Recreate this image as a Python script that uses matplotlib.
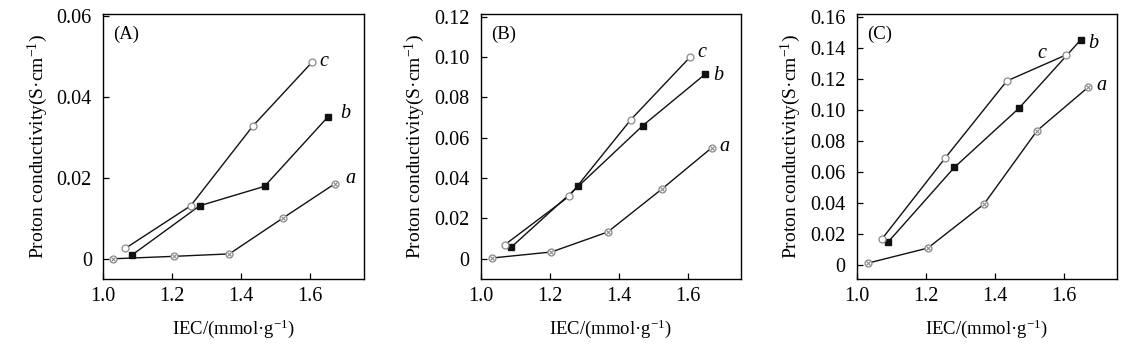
import matplotlib
matplotlib.use('Agg')
import matplotlib.pyplot as plt

plt.rcParams['font.family'] = ['Liberation Serif', 'DejaVu Serif']
plt.rcParams['mathtext.fontset'] = 'custom'
plt.rcParams['mathtext.rm'] = 'Liberation Serif'
plt.rcParams['mathtext.it'] = 'Liberation Serif:italic'

# Panel A
a_x_A = [1.03, 1.205, 1.366, 1.522, 1.671]
a_y_A = [0.0, 0.0006, 0.0012, 0.0101, 0.0185]
b_x_A = [1.085, 1.28, 1.468, 1.651]
b_y_A = [0.001, 0.0131, 0.0179, 0.035]
c_x_A = [1.065, 1.254, 1.434, 1.607]
c_y_A = [0.0026, 0.0131, 0.0328, 0.0487]

# Panel B
a_x_B = [1.032, 1.205, 1.368, 1.525, 1.669]
a_y_B = [0.0003, 0.0033, 0.0132, 0.0345, 0.0549]
b_x_B = [1.088, 1.283, 1.470, 1.650]
b_y_B = [0.0056, 0.0359, 0.066, 0.0914]
c_x_B = [1.070, 1.256, 1.435, 1.606]
c_y_B = [0.0069, 0.0309, 0.0689, 0.0998]

# Panel C
a_x_C = [1.034, 1.206, 1.369, 1.523, 1.671]
a_y_C = [0.0015, 0.0111, 0.0394, 0.0867, 0.1146]
b_x_C = [1.091, 1.283, 1.470, 1.649]
b_y_C = [0.015, 0.063, 0.101, 0.145]
c_x_C = [1.073, 1.257, 1.435, 1.606]
c_y_C = [0.0169, 0.0692, 0.1186, 0.1353]

panel_names = ['(A)', '(B)', '(C)']
yticks_A = [0, 0.02, 0.04, 0.06]
yticks_B = [0, 0.02, 0.04, 0.06, 0.08, 0.10, 0.12]
yticks_C = [0, 0.02, 0.04, 0.06, 0.08, 0.10, 0.12, 0.14, 0.16]
xticks = [1.0, 1.2, 1.4, 1.6]

panels = [
    (a_x_A, a_y_A, b_x_A, b_y_A, c_x_A, c_y_A, yticks_A, ['0', '0.02', '0.04', '0.06'],
     (-0.005, 0.0605), [(1.717, 0.0198, 'a'), (1.702, 0.036, 'b'), (1.639, 0.0487, 'c')]),
    (a_x_B, a_y_B, b_x_B, b_y_B, c_x_B, c_y_B, yticks_B, ['0', '0.02', '0.04', '0.06', '0.08', '0.10', '0.12'],
     (-0.0101, 0.1213), [(1.705, 0.0557, 'a'), (1.690, 0.0907, 'b'), (1.642, 0.102, 'c')]),
    (a_x_C, a_y_C, b_x_C, b_y_C, c_x_C, c_y_C, yticks_C, ['0', '0.02', '0.04', '0.06', '0.08', '0.10', '0.12', '0.14', '0.16'],
     (-0.0088, 0.1617), [(1.710, 0.1154, 'a'), (1.686, 0.1428, 'b'), (1.537, 0.1364, 'c')]),
]

lefts = [0.0904, 0.4217, 0.7515]
width = 0.2285
bottom = 0.2163
height = 0.7444

fig = plt.figure(figsize=(11.4, 3.56), dpi=100)

line_color = '#111111'
gray = '#8a8a8a'

for i, (ax_, ay_, bx_, by_, cx_, cy_, yt, ytl, ylim, labels) in enumerate(panels):
    ax = fig.add_axes([lefts[i], bottom, width, height])
    ax.plot(ax_, ay_, '-', color=line_color, lw=1.0, marker='o', ms=5,
            mfc='white', mec=gray, mew=0.9)
    ax.plot(ax_, ay_, 'none', marker='x', ms=3.2, mec=gray, mew=0.8)
    ax.plot(bx_, by_, '-', color=line_color, lw=1.0, marker='s', ms=5,
            mfc='#111111', mec='#111111')
    ax.plot(cx_, cy_, '-', color=line_color, lw=1.0, marker='o', ms=5,
            mfc='white', mec=gray, mew=0.9)
    for lx, ly, t in labels:
        ax.text(lx, ly, t, fontsize=14.5, style='italic', ha='center', va='center')
    ax.text(0.04, 0.955, panel_names[i], transform=ax.transAxes, fontsize=13.5,
            ha='left', va='top')
    ax.set_xlim(1.0, 1.755)
    ax.set_ylim(*ylim)
    ax.set_xticks(xticks)
    ax.set_xticklabels(['1.0', '1.2', '1.4', '1.6'])
    ax.set_yticks(yt)
    ax.set_yticklabels(ytl)
    ax.tick_params(direction='in', length=4, width=0.9, labelsize=14.5,
                   top=False, right=False)
    ax.tick_params(axis='y', pad=8)
    ax.tick_params(axis='x', pad=6)
    for s in ax.spines.values():
        s.set_linewidth(1.0)
    ax.set_xlabel('IEC/(mmol·g$^{-1}$)', fontsize=13.5, labelpad=8)
    ax.set_ylabel('Proton conductivity(S·cm$^{-1}$)', fontsize=14, labelpad=5)

fig.savefig('out.png', dpi=100)
